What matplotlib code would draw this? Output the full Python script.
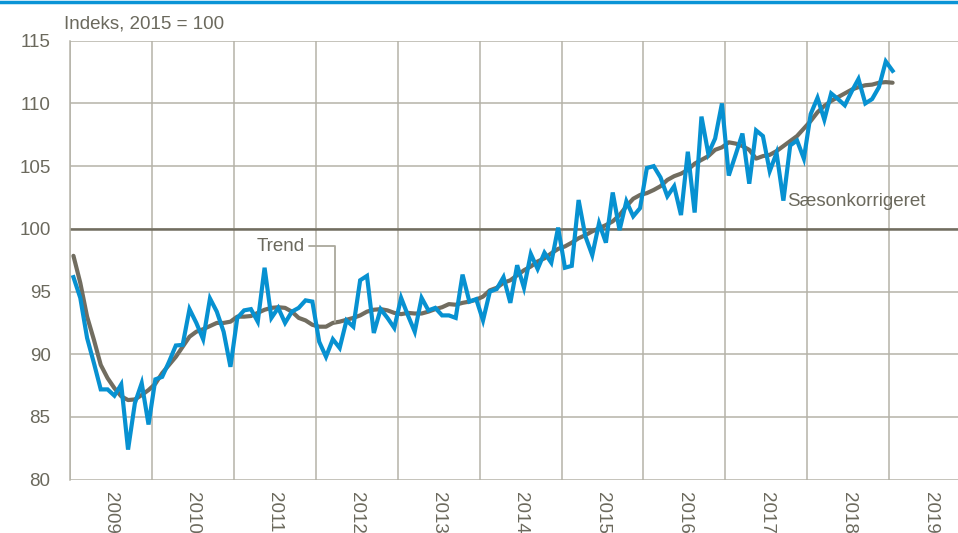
import numpy as np
import pandas as pd
import matplotlib
matplotlib.use('Agg')
import matplotlib.pyplot as plt
from matplotlib.lines import Line2D

plt.rcParams['font.family'] = ['Liberation Sans', 'DejaVu Sans']

# Maanedlige data, jan 2009 - jan 2019
maaneder = pd.date_range('2009-01-01', periods=121, freq='MS')

saeson = [96.15, 94.5, 91.3, 89.3, 87.2, 87.2, 86.7, 87.6, 82.4, 86.1,
          87.7, 84.4, 88.0, 88.2, 89.4, 90.7, 90.75, 93.6, 92.5, 91.2,
          94.45, 93.4, 91.8, 89.0, 92.9, 93.5, 93.6, 92.6, 96.9, 92.9,
          93.7, 92.5, 93.4, 93.7, 94.3, 94.2, 91.0, 89.8, 91.2, 90.5,
          92.7, 92.2, 95.9, 96.25, 91.7, 93.6, 92.9, 92.1, 94.5, 93.1,
          91.8, 94.5, 93.5, 93.7, 93.1, 93.1, 92.9, 96.35, 94.2, 94.4,
          92.7, 95.0, 95.2, 96.15, 94.1, 97.1, 95.3, 98.0, 96.8, 98.1,
          97.3, 100.1, 96.9, 97.05, 102.3, 99.4, 97.9, 100.45, 98.9, 102.9,
          99.9, 102.2, 101.0, 101.65, 104.85, 105.0, 104.1, 102.6, 103.4, 101.1,
          106.15, 101.3, 108.95, 106.0, 107.2, 110.0, 104.25, 105.9, 107.6, 103.6,
          107.85, 107.4, 104.6, 106.05, 102.25, 106.65, 107.05, 105.6, 109.15, 110.45,
          108.7, 110.8, 110.35, 109.85, 110.95, 111.95, 110.0, 110.35, 111.3, 113.35,
          112.6]

trend = [97.85, 95.7, 93.0, 91.15, 89.15, 88.1, 87.3, 86.65, 86.35, 86.4,
         86.75, 87.15, 87.65, 88.5, 89.15, 89.8, 90.6, 91.4, 91.8, 92.0,
         92.25, 92.5, 92.5, 92.6, 93.0, 93.0, 93.05, 93.3, 93.55, 93.7,
         93.75, 93.7, 93.4, 92.9, 92.7, 92.35, 92.2, 92.2, 92.5, 92.6,
         92.75, 92.9, 93.1, 93.4, 93.55, 93.6, 93.5, 93.3, 93.2, 93.3,
         93.25, 93.25, 93.4, 93.6, 93.75, 94.0, 93.95, 94.1, 94.2, 94.35,
         94.6, 95.1, 95.3, 95.7, 95.9, 96.3, 96.7, 97.0, 97.4, 97.65,
         98.05, 98.4, 98.6, 98.9, 99.25, 99.5, 99.8, 100.05, 100.3, 100.6,
         101.1, 101.8, 102.4, 102.7, 102.85, 103.1, 103.4, 103.9, 104.2, 104.4,
         104.7, 105.2, 105.5, 105.8, 106.3, 106.5, 106.9, 106.8, 106.6, 106.3,
         105.6, 105.8, 105.9, 106.2, 106.6, 107.0, 107.4, 108.0, 108.6, 109.3,
         109.8, 110.2, 110.5, 110.8, 111.1, 111.3, 111.45, 111.5, 111.65, 111.7,
         111.65]

aar = list(range(2009, 2020))
y_ticks = [80, 85, 90, 95, 100, 105, 110, 115]

blaa = '#0791d1'
graa = '#716d60'
tekst = '#6b695d'
gitter = '#b5b3a8'
fs = 13.5

# x som decimal-aar, midt i maaneden
tid = maaneder.year + (maaneder.month - 0.5) / 12

fig = plt.figure(figsize=(9.58, 5.33), dpi=100)
ax = fig.add_axes([0.0731, 0.1, 0.9269, 0.8236])

ax.plot(tid, trend, color=graa, lw=3.0, solid_capstyle='round', zorder=3)
ax.plot(tid, saeson, color=blaa, lw=3.0, solid_joinstyle='miter', zorder=4)
ax.axhline(100, color=graa, lw=1.8, zorder=2)

ax.set_xlim(2009, 2019.84)
ax.set_ylim(80, 115)
ax.set_xticks(aar)
ax.set_xticklabels([])
ax.set_xticks([a + 0.5 for a in aar], minor=True)
ax.set_xticklabels([str(a) for a in aar], minor=True, rotation=-90,
                   color=tekst, fontsize=fs, va='top')
ax.tick_params(axis='x', which='both', length=0, pad=9)
ax.set_yticks(y_ticks)
ax.set_yticklabels([str(v) for v in y_ticks], color=tekst, fontsize=fs)
ax.tick_params(axis='y', length=0, pad=14)
ax.grid(True, which='major', color=gitter, lw=1.1, zorder=0)
for s in ['top', 'right', 'bottom']:
    ax.spines[s].set_visible(False)
ax.spines['left'].set_color(gitter)
ax.spines['left'].set_linewidth(1.1)

ax.annotate('Trend', xy=(2012.235, 92.6), xytext=(2011.87, 98.6),
            ha='right', va='center', color=tekst, fontsize=fs,
            arrowprops=dict(arrowstyle='-', color='#aaa89c', lw=1.3,
                            shrinkA=1, shrinkB=0,
                            connectionstyle='angle,angleA=0,angleB=90,rad=0'))
ax.text(2017.75, 102.2, 'Sæsonkorrigeret', ha='left', va='center',
        color=tekst, fontsize=fs)

fig.text(0.0668, 0.955, 'Indeks, 2015 = 100', ha='left', va='center',
         color=tekst, fontsize=fs)
fig.add_artist(Line2D([0, 1], [0.997, 0.997], color='#0a94d6', lw=2.5,
                      transform=fig.transFigure))

fig.savefig('out.png', dpi=100)
